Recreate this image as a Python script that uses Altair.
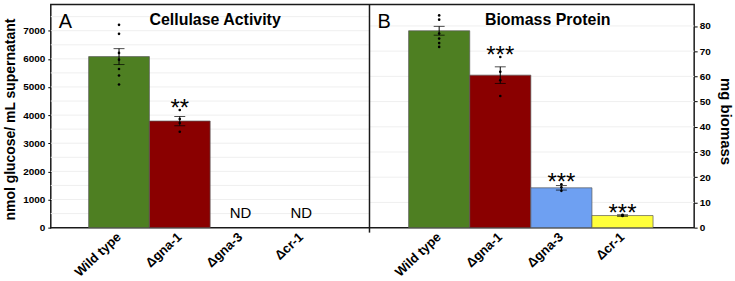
import altair as alt
import pandas as pd

FONT = "Liberation Sans"

genotypes = ["Wild type", "Δgna-1", "Δgna-3", "Δcr-1"]
bar_colors = ["#4e7f22", "#8a0000", "#6ea0f2", "#ffff3a"]

# Panel A: cellulase activity (nmol glucose / mL supernatant)
cell_mean = [6080, 3790, 0, 0]
cell_sem = [283, 165, 0, 0]
cell_reps = {
    "Wild type": [7210, 6890, 6210, 5970, 5640, 5410, 5090],
    "Δgna-1": [4180, 3860, 3720, 3410],
}
cell_sig = {"Δgna-1": "**"}
cell_nd = ["Δgna-3", "Δcr-1"]
cell_ticks = [0, 1000, 2000, 3000, 4000, 5000, 6000, 7000]
cell_grid = [500, 1000, 1500, 2000, 2500, 3000, 3500, 4000, 4500, 5000,
             5500, 6000, 6500, 7000, 7500]

# Panel B: biomass protein (mg biomass)
bio_mean = [78.1, 60.5, 15.8, 4.8]
bio_sem = [1.75, 3.3, 0.9, 0.3]
bio_reps = {
    "Wild type": [84.2, 82.5, 77.0, 75.0, 73.2, 71.7],
    "Δgna-1": [67.7, 61.8, 58.5, 52.2],
    "Δgna-3": [17.2, 16.0, 14.6],
    "Δcr-1": [5.1, 4.8, 4.6],
}
bio_sig = {"Δgna-1": "***", "Δgna-3": "***", "Δcr-1": "***"}
bio_nd = []
bio_ticks = [0, 10, 20, 30, 40, 50, 60, 70, 80]
bio_grid = [10, 20, 30, 40, 50, 60, 70, 80]

W, H = 646, 224
SPLIT = 320


def panel(means, sems, reps, sig, nd, x_scale, y_scale, y_axis, grid,
          grid_x, title, letter, title_x, letter_x):
    """Layers for one panel; every layer carries the same explicit scales."""
    summary = pd.DataFrame({
        "genotype": genotypes,
        "mean": means,
        "lo": [m - s for m, s in zip(means, sems)],
        "hi": [m + s for m, s in zip(means, sems)],
    })
    measured = summary[[g not in nd for g in genotypes]]
    points = pd.DataFrame(
        [{"genotype": g, "value": v} for g, vals in reps.items() for v in vals]
    )
    stars = pd.DataFrame(
        [{"genotype": g, "label": s, "top": max(reps[g])} for g, s in sig.items()]
    )

    x_axis = alt.Axis(
        orient="bottom", title=None, domain=False, ticks=False,
        labelAngle=-43, labelAlign="right", labelBaseline="middle",
        labelFont=FONT, labelFontSize=13, labelFontWeight="bold",
        labelColor="black", labelPadding=7,
    )
    x = alt.X("genotype:N", scale=x_scale, axis=x_axis, sort=genotypes)
    x_plain = alt.X("genotype:N", scale=x_scale, axis=None, sort=genotypes)

    gridlines = alt.Chart(pd.DataFrame({"g": grid})).mark_rule(
        color="#efefef", strokeWidth=1
    ).encode(
        y=alt.Y("g:Q", scale=y_scale, axis=y_axis),
        x=alt.value(grid_x[0]), x2=alt.value(grid_x[1]),
    )

    bars = alt.Chart(measured).mark_bar(
        stroke="#5a5a5a", strokeWidth=0.7
    ).encode(
        x=x,
        y=alt.Y("mean:Q", scale=y_scale, axis=None),
        color=alt.Color("genotype:N",
                        scale=alt.Scale(domain=genotypes, range=bar_colors),
                        legend=None),
    )
    whisk = alt.Chart(measured).mark_rule(color="black", strokeWidth=1).encode(
        x=x_plain,
        y=alt.Y("lo:Q", scale=y_scale, axis=None),
        y2="hi:Q",
    )
    cap_lo = alt.Chart(measured).mark_tick(
        color="black", thickness=1, size=11, orient="horizontal"
    ).encode(x=x_plain, y=alt.Y("lo:Q", scale=y_scale, axis=None))
    cap_hi = alt.Chart(measured).mark_tick(
        color="black", thickness=1, size=11, orient="horizontal"
    ).encode(x=x_plain, y=alt.Y("hi:Q", scale=y_scale, axis=None))
    dots = alt.Chart(points).mark_circle(color="black", size=7, opacity=1).encode(
        x=x_plain, y=alt.Y("value:Q", scale=y_scale, axis=None)
    )
    layers = [gridlines, bars, whisk, cap_lo, cap_hi, dots]

    if len(stars):
        layers.append(
            alt.Chart(stars).mark_text(
                font=FONT, fontSize=24, color="black", dy=6,
                baseline="alphabetic"
            ).encode(
                x=x_plain, y=alt.Y("top:Q", scale=y_scale, axis=None),
                text="label:N",
            )
        )
    if nd:
        layers.append(
            alt.Chart(pd.DataFrame({"genotype": nd, "v": [0] * len(nd),
                                    "label": ["ND"] * len(nd)})).mark_text(
                font=FONT, fontSize=15, color="black", dy=-10,
                baseline="alphabetic"
            ).encode(
                x=x_plain, y=alt.Y("v:Q", scale=y_scale, axis=None),
                text="label:N",
            )
        )
    layers.append(
        alt.Chart(pd.DataFrame({"t": [title]})).mark_text(
            font=FONT, fontSize=16, fontWeight="bold", color="black",
            baseline="alphabetic", align="center"
        ).encode(text="t:N", x=alt.value(title_x), y=alt.value(21))
    )
    layers.append(
        alt.Chart(pd.DataFrame({"t": [letter]})).mark_text(
            font=FONT, fontSize=20, color="black",
            baseline="alphabetic", align="left"
        ).encode(text="t:N", x=alt.value(letter_x), y=alt.value(24))
    )
    return layers


axis_common = dict(
    labelFont=FONT, labelFontSize=10, labelFontWeight="bold", labelColor="black",
    titleFont=FONT, titleFontWeight="bold", titleColor="black",
    domain=False, grid=False, tickSize=3, tickColor="black", format="d",
    titleBaseline="alphabetic",
)

layers_a = panel(
    cell_mean, cell_sem, cell_reps, cell_sig, cell_nd,
    x_scale=alt.Scale(type="band", domain=genotypes, range=[0, SPLIT],
                      paddingInner=0, paddingOuter=0.623),
    y_scale=alt.Scale(domain=[0, 7930], nice=False),
    y_axis=alt.Axis(orient="left", values=cell_ticks,
                    title="nmol glucose/ mL supernatant", titleFontSize=14,
                    labelPadding=3, titleAngle=-90, titleX=-36, titleY=115,
                    **axis_common),
    grid=cell_grid, grid_x=(0, SPLIT),
    title="Cellulase Activity", letter="A", title_x=165, letter_x=8,
)

layers_b = panel(
    bio_mean, bio_sem, bio_reps, bio_sig, bio_nd,
    x_scale=alt.Scale(type="band", domain=genotypes, range=[SPLIT, 644],
                      paddingInner=0, paddingOuter=0.64),
    y_scale=alt.Scale(domain=[0, 88.5], nice=False),
    y_axis=alt.Axis(orient="right", values=bio_ticks, title="mg biomass",
                    titleFontSize=15,
                    labelPadding=2, titleAngle=90, titleX=26, titleY=117,
                    **axis_common),
    grid=bio_grid, grid_x=(SPLIT, W),
    title="Biomass Protein", letter="B", title_x=499, letter_x=328,
)

divider = alt.Chart(pd.DataFrame({"d": [0]})).mark_rule(
    color="#1a1a1a", strokeWidth=1.5
).encode(x=alt.value(SPLIT), y=alt.value(0), y2=alt.value(229))

chart = alt.layer(*layers_a, *layers_b, divider).resolve_scale(
    x="independent", y="independent"
).properties(
    width=W, height=H,
    padding={"left": 3, "top": 3, "right": 3, "bottom": 0},
    background="white",
).configure_view(
    stroke="#1a1a1a", strokeWidth=1.5
)

chart.save("out.html", embed_options={"renderer": "svg", "actions": False})
